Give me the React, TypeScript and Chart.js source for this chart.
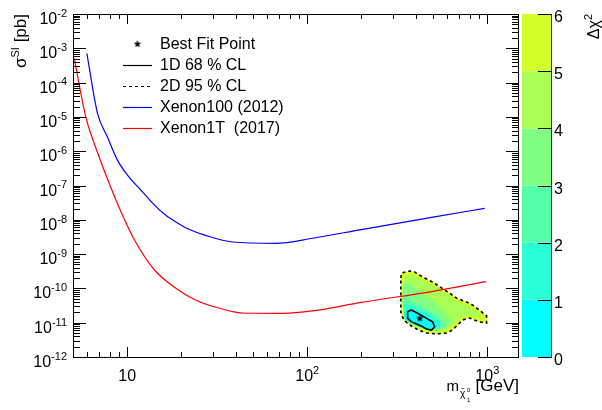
import React, { useEffect, useRef } from "react";
import { Chart, registerables } from "chart.js";

Chart.register(...registerables);

const FONT = '"Liberation Sans", Arial, Helvetica, sans-serif';

// ---- Exclusion limits ----
const xenon100Mass = [5.97, 6.84, 7.77, 8.83, 10.04, 12.16, 14.36, 16.32, 19.03, 22.19, 27.23, 38.46, 66.7, 107, 200, 500, 966];
const xenon100Sigma = [7.1e-4, 1.27e-5, 2.6e-6, 5.5e-7, 2.0e-7, 6.5e-8, 2.5e-8, 1.38e-8, 8.1e-9, 5.2e-9, 3.5e-9, 2.25e-9, 2.06e-9, 2.9e-9, 5.2e-9, 1.2e-8, 2.16e-8];

const xenon1TMass = [5.08, 5.89, 6.98, 7.97, 9.3, 10.98, 14.18, 18.55, 23.95, 32.57, 43.7, 73, 107, 200, 500, 986];
const xenon1TSigma = [5.1e-4, 1.0e-5, 6.9e-7, 1.11e-7, 1.58e-8, 2.58e-9, 3.44e-10, 1.03e-10, 4.6e-11, 2.63e-11, 1.92e-11, 1.88e-11, 2.2e-11, 3.9e-11, 8.2e-11, 1.58e-10];

// ---- Fit contours ----
const cl95Mass = [331, 334, 370, 395, 437, 497, 557, 617, 675, 767, 828, 918, 991, 991, 906, 797, 729, 684, 641, 594, 523, 460, 415, 370, 343, 331, 331];
const cl95Sigma = [2.01e-10, 2.81e-10, 3.21e-10, 3.01e-10, 2.15e-10, 1.54e-10, 1.03e-10, 7.3e-11, 5.2e-11, 4.0e-11, 3.3e-11, 2.19e-11, 1.57e-11, 9.8e-12, 1.05e-11, 1.37e-11, 1.2e-11, 8.6e-12, 6.1e-12, 5.0e-12, 4.7e-12, 5.0e-12, 6.1e-12, 8.6e-12, 1.2e-11, 2.05e-11, 7.9e-11];

const cl68Mass = [361, 378, 410, 460, 497, 510, 490, 460, 426, 378, 361];
const cl68Sigma = [2.09e-11, 2.35e-11, 1.88e-11, 1.34e-11, 1.07e-11, 7.6e-12, 6.1e-12, 6.55e-12, 8.2e-12, 1.07e-11, 1.34e-11];

const bestFitMass = [421];
const bestFitSigma = [1.34e-11];

// ---- Delta chi^2 regions (level = lower edge of band) ----
const chi2Levels = [0, 1, 2, 3, 4, 5, 6];
const chi2Colors = ["#00ffff", "#2affd5", "#55ffaa", "#80ff80", "#aaff55", "#d5ff2a"];

const band4Mass = [343, 347, 370, 395, 437, 497, 557, 617, 675, 767, 828, 906, 942, 797, 720, 658, 594, 523, 460, 415, 370, 347, 343];
const band4Sigma = [1.76e-10, 2.3e-10, 2.46e-10, 2.3e-10, 1.76e-10, 1.26e-10, 8.4e-11, 6.0e-11, 4.3e-11, 3.3e-11, 2.68e-11, 1.79e-11, 1.28e-11, 1.68e-11, 1.47e-11, 9.2e-12, 6.55e-12, 5.7e-12, 6.1e-12, 7.5e-12, 1.05e-11, 1.47e-11, 4.6e-11];

const band3Mass = [339, 370, 421, 490, 579, 641, 594, 523, 460, 415, 370, 347, 339];
const band3Sigma = [1.34e-10, 1.44e-10, 7.9e-11, 4.6e-11, 2.05e-11, 1.05e-11, 7.0e-12, 5.7e-12, 6.1e-12, 7.5e-12, 1.05e-11, 1.47e-11, 4.6e-11];

const band2Mass = [339, 370, 448, 543, 586, 523, 448, 380, 347, 339];
const band2Sigma = [6.0e-11, 4.6e-11, 2.68e-11, 1.37e-11, 8.0e-12, 6.1e-12, 6.55e-12, 9.8e-12, 1.57e-11, 3.3e-11];

const band1Mass = [343, 380, 466, 543, 536, 454, 380, 347];
const band1Sigma = [3.5e-11, 3.07e-11, 1.92e-11, 1.12e-11, 7.0e-12, 7.0e-12, 9.8e-12, 1.57e-11];

const band0Mass = [347, 375, 415, 460, 503, 516, 484, 421, 370, 347];
const band0Sigma = [2.05e-11, 2.5e-11, 2.05e-11, 1.47e-11, 1.12e-11, 7.5e-12, 5.7e-12, 7.5e-12, 9.8e-12, 1.28e-11];

// ---- Axes ----
const xMin = 5, xMax = 1500;
const yMin = 1e-12, yMax = 1e-2;
const xTickExponents = [1, 2, 3];
const yTickExponents = [-12, -11, -10, -9, -8, -7, -6, -5, -4, -3, -2];

const pts = (ms: number[], ss: number[]) => ms.map((m, i) => ({ x: m, y: ss[i] }));
const closed = (ms: number[], ss: number[]) => {
  const p = pts(ms, ss);
  p.push({ ...p[0] });
  return p;
};

function makeStar(r: number) {
  const c = document.createElement("canvas");
  const s = Math.ceil(r * 2 + 2);
  c.width = s;
  c.height = s;
  const g = c.getContext("2d")!;
  g.fillStyle = "#000";
  g.beginPath();
  for (let i = 0; i < 10; i++) {
    const ang = -Math.PI / 2 + (i * Math.PI) / 5;
    const rad = i % 2 === 0 ? r : r * 0.42;
    const px = s / 2 + rad * Math.cos(ang);
    const py = s / 2 + rad * Math.sin(ang);
    if (i === 0) g.moveTo(px, py);
    else g.lineTo(px, py);
  }
  g.closePath();
  g.fill();
  return c;
}

function drawPow(ctx: CanvasRenderingContext2D, x: number, y: number, base: string, exp: string, align: "right" | "center", size = 16) {
  const es = Math.round(size * 0.68);
  ctx.font = `${size}px ${FONT}`;
  const wb = ctx.measureText(base).width;
  ctx.font = `${es}px ${FONT}`;
  const we = exp ? ctx.measureText(exp).width : 0;
  const total = wb + we;
  const x0 = align === "right" ? x - total : x - total / 2;
  ctx.textAlign = "left";
  ctx.textBaseline = "alphabetic";
  ctx.font = `${size}px ${FONT}`;
  ctx.fillText(base, x0, y);
  if (exp) {
    ctx.font = `${es}px ${FONT}`;
    ctx.fillText(exp, x0 + wb, y - size * 0.45);
  }
}

function logTicks(min: number, max: number) {
  const out: { v: number; major: boolean }[] = [];
  for (let d = Math.floor(Math.log10(min)); d <= Math.ceil(Math.log10(max)); d++) {
    for (let k = 1; k < 10; k++) {
      const v = k * Math.pow(10, d);
      if (v >= min * 0.9999 && v <= max * 1.0001) out.push({ v, major: k === 1 });
    }
  }
  return out;
}

const rootStyle = {
  id: "rootStyle",
  beforeDraw(chart: any) {
    const ctx = chart.ctx;
    ctx.save();
    ctx.fillStyle = "#fff";
    ctx.fillRect(0, 0, chart.width, chart.height);
    ctx.restore();
  },
  afterDraw(chart: any) {
    const { ctx, chartArea: a, scales } = chart;
    const xs = scales.x, ys = scales.y, cb = scales.cb;
    ctx.save();
    ctx.strokeStyle = "#000";
    ctx.fillStyle = "#000";
    ctx.lineWidth = 1;
    ctx.setLineDash([]);

    // frame
    ctx.strokeRect(a.left + 0.5, a.top + 0.5, a.right - a.left - 1, a.bottom - a.top);

    // y ticks (left & right)
    ctx.beginPath();
    for (const t of logTicks(yMin, yMax)) {
      const py = Math.round(ys.getPixelForValue(t.v)) + 0.5;
      const len = t.major ? 13 : 7;
      ctx.moveTo(a.left, py);
      ctx.lineTo(a.left + len, py);
      ctx.moveTo(a.right, py);
      ctx.lineTo(a.right - len, py);
    }
    // x ticks (bottom & top)
    for (const t of logTicks(xMin, xMax)) {
      const px = Math.round(xs.getPixelForValue(t.v)) + 0.5;
      const len = t.major ? 10 : 5;
      ctx.moveTo(px, a.bottom);
      ctx.lineTo(px, a.bottom - len);
      ctx.moveTo(px, a.top);
      ctx.lineTo(px, a.top + len);
    }
    ctx.stroke();

    // y tick labels
    for (const e of yTickExponents) {
      const py = ys.getPixelForValue(Math.pow(10, e));
      drawPow(ctx, a.left - 6, py + 10, "10", String(e), "right", 16);
    }
    // x tick labels
    for (const e of xTickExponents) {
      const px = xs.getPixelForValue(Math.pow(10, e));
      drawPow(ctx, px, a.bottom + 24, "10", e === 1 ? "" : String(e), "center", 16);
    }

    // x axis title: m_{chi~0_1} [GeV]
    {
      const base = a.bottom + 34;
      ctx.textAlign = "left";
      ctx.textBaseline = "alphabetic";
      ctx.font = `17px ${FONT}`;
      const gev = "[GeV]";
      const wG = ctx.measureText(gev).width;
      const xG = a.right - wG;
      ctx.fillText(gev, xG, base);
      const xm = xG - 29;
      ctx.font = `15px ${FONT}`;
      const wm = ctx.measureText("m").width;
      ctx.fillText("m", xm, base);
      ctx.font = `10px ${FONT}`;
      ctx.fillText("\u03c7", xm + wm + 1, base + 6);
      ctx.font = `6px ${FONT}`;
      ctx.fillText("~", xm + wm + 2, base - 1);
      ctx.fillText("0", xm + wm + 8, base + 1);
      ctx.fillText("1", xm + wm + 8, base + 11);
    }

    // y axis title: sigma^SI [pb]
    {
      ctx.save();
      ctx.translate(26, a.top);
      ctx.rotate(-Math.PI / 2);
      ctx.textAlign = "left";
      ctx.textBaseline = "alphabetic";
      ctx.font = `17px ${FONT}`;
      const w1 = ctx.measureText("\u03c3").width;
      const w3 = ctx.measureText(" [pb]").width;
      ctx.font = `11px ${FONT}`;
      const w2 = ctx.measureText("SI").width;
      const x0 = -(w1 + w2 + w3);
      ctx.font = `17px ${FONT}`;
      ctx.fillText("\u03c3", x0, 0);
      ctx.fillText(" [pb]", x0 + w1 + w2, 0);
      ctx.font = `11px ${FONT}`;
      ctx.fillText("SI", x0 + w1, -7);
      ctx.restore();
    }

    // colour bar
    {
      const x0 = a.right + 3;
      const x1 = a.right + 32;
      for (let i = 0; i < chi2Colors.length; i++) {
        const yTop = cb.getPixelForValue(chi2Levels[i + 1]);
        const yBot = cb.getPixelForValue(chi2Levels[i]);
        ctx.fillStyle = chi2Colors[i];
        ctx.fillRect(x0, yTop, x1 - x0, yBot - yTop);
      }
      ctx.strokeStyle = "#333";
      ctx.beginPath();
      ctx.moveTo(x1 + 0.5, cb.getPixelForValue(6));
      ctx.lineTo(x1 + 0.5, cb.getPixelForValue(0));
      ctx.stroke();
      ctx.strokeStyle = "#000";
      ctx.beginPath();
      for (const l of chi2Levels) {
        const py = Math.round(cb.getPixelForValue(l)) + 0.5;
        ctx.moveTo(x1 + 1, py);
        ctx.lineTo(x1 - 13, py);
      }
      ctx.stroke();
      ctx.fillStyle = "#000";
      ctx.font = `16px ${FONT}`;
      ctx.textAlign = "left";
      ctx.textBaseline = "alphabetic";
      for (const l of chi2Levels) {
        const py = cb.getPixelForValue(l);
        ctx.fillText(String(l), x1 + 3, py + 8);
      }
      // title
      ctx.save();
      ctx.translate(599, a.top);
      ctx.rotate(-Math.PI / 2);
      ctx.font = `16px ${FONT}`;
      const wd = ctx.measureText("\u0394\u03c7").width;
      ctx.font = `11px ${FONT}`;
      const w2 = ctx.measureText("2").width;
      const s0 = -(wd + w2);
      ctx.font = `16px ${FONT}`;
      ctx.fillText("\u0394\u03c7", s0, 0);
      ctx.font = `11px ${FONT}`;
      ctx.fillText("2", s0 + wd, -7);
      ctx.restore();
    }

    // legend
    {
      const lx0 = a.left + 50;
      const lx1 = a.left + 79;
      const tx = a.left + 87;
      let row = 0;
      ctx.font = `16px ${FONT}`;
      ctx.textAlign = "left";
      ctx.textBaseline = "middle";
      chart.data.datasets.forEach((ds: any) => {
        if (!ds.inLegend) return;
        const y = a.top + 30 + row * 21;
        if (ds.isMarker) {
          const img = ds.pointStyle as HTMLCanvasElement;
          ctx.drawImage(img, (lx0 + lx1) / 2 - img.width / 2, y - img.height / 2);
        } else {
          ctx.save();
          ctx.strokeStyle = ds.borderColor;
          ctx.lineWidth = 1.2;
          ctx.setLineDash(ds.borderDash || []);
          ctx.beginPath();
          ctx.moveTo(lx0, Math.round(y) + 0.5);
          ctx.lineTo(lx1, Math.round(y) + 0.5);
          ctx.stroke();
          ctx.restore();
        }
        ctx.fillStyle = "#000";
        ctx.fillText(ds.label, tx, y + 1);
        row++;
      });
    }
    ctx.restore();
  },
};

export default function App() {
  const ref = useRef<HTMLCanvasElement | null>(null);
  useEffect(() => {
    document.body.style.margin = "0";
    const canvas = ref.current!;
    const star = makeStar(4);
    const bands = [
      { ms: band0Mass, ss: band0Sigma, lvl: 0 },
      { ms: band1Mass, ss: band1Sigma, lvl: 1 },
      { ms: band2Mass, ss: band2Sigma, lvl: 2 },
      { ms: band3Mass, ss: band3Sigma, lvl: 3 },
      { ms: band4Mass, ss: band4Sigma, lvl: 4 },
      { ms: cl95Mass, ss: cl95Sigma, lvl: 5 },
    ];
    // higher order = drawn first (underneath): outer band at the bottom
    const bandSets = bands.map((b) => ({
      label: `band${b.lvl}`,
      data: closed(b.ms, b.ss),
      showLine: true,
      fill: "shape",
      backgroundColor: chi2Colors[b.lvl],
      borderColor: "rgba(0,0,0,0)",
      borderWidth: 0,
      pointRadius: 0,
      order: 10 + b.lvl,
    }));
    const chart = new Chart(canvas, {
      type: "scatter",
      data: {
        datasets: [
          {
            label: "Best Fit Point",
            data: pts(bestFitMass, bestFitSigma),
            pointStyle: star,
            pointRadius: 4,
            showLine: false,
            order: 1,
            inLegend: true,
            isMarker: true,
          } as any,
          {
            label: "1D 68 % CL",
            data: closed(cl68Mass, cl68Sigma),
            showLine: true,
            borderColor: "#000",
            borderWidth: 1.6,
            pointRadius: 0,
            fill: false,
            order: 3,
            inLegend: true,
          },
          {
            label: "2D 95 % CL",
            data: closed(cl95Mass, cl95Sigma),
            showLine: true,
            borderColor: "#000",
            borderWidth: 1.6,
            borderDash: [3, 3],
            pointRadius: 0,
            fill: false,
            order: 3,
            inLegend: true,
          },
          {
            label: "Xenon100 (2012)",
            data: pts(xenon100Mass, xenon100Sigma),
            showLine: true,
            borderColor: "#0000ff",
            borderWidth: 1.2,
            pointRadius: 0,
            fill: false,
            cubicInterpolationMode: "monotone",
            order: 2,
            inLegend: true,
          },
          {
            label: "Xenon1T  (2017)",
            data: pts(xenon1TMass, xenon1TSigma),
            showLine: true,
            borderColor: "#ff0000",
            borderWidth: 1.2,
            pointRadius: 0,
            fill: false,
            cubicInterpolationMode: "monotone",
            order: 2,
            inLegend: true,
          },
          ...bandSets,
        ] as any,
      },
      options: {
        responsive: false,
        animation: false,
        devicePixelRatio: 1,
        layout: { padding: { left: 73, top: 14, right: 83, bottom: 53 } },
        plugins: { legend: { display: false }, tooltip: { enabled: false } },
        elements: { line: { tension: 0 } },
        scales: {
          x: { type: "logarithmic", min: xMin, max: xMax, display: false },
          y: { type: "logarithmic", min: yMin, max: yMax, display: false },
          cb: { type: "linear", axis: "y", position: "right", min: 0, max: 6, display: false },
        } as any,
      },
      plugins: [rootStyle],
    });
    return () => chart.destroy();
  }, []);
  return <canvas ref={ref} width={602} height={410} style={{ display: "block" }} />;
}
